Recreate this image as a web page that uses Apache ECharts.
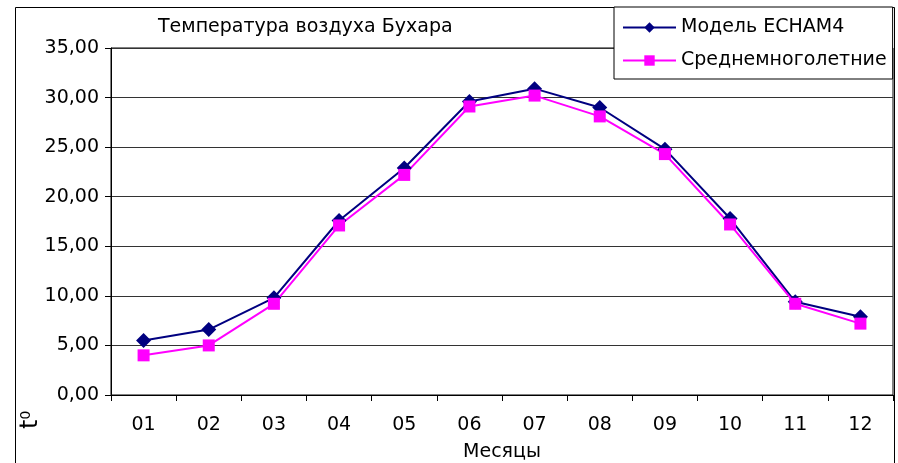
<!DOCTYPE html>
<html><head><meta charset="utf-8">
<script src="https://cdn.jsdelivr.net/npm/echarts@6/dist/echarts.min.js"></script>
<style>html,body{margin:0;padding:0;background:#fff}#c{width:898px;height:463px}</style>
</head><body><div id="c"></div>
<script>
var months = ['01','02','03','04','05','06','07','08','09','10','11','12'];
var echamValues = [5.5, 6.6, 9.8, 17.6, 22.9, 29.6, 30.9, 29.0, 24.8, 17.8, 9.4, 7.9];
var normValues = [4.0, 5.0, 9.2, 17.1, 22.2, 29.1, 30.2, 28.1, 24.3, 17.2, 9.2, 7.2];
var seriesNames = ['Модель ECHAM4', 'Среднемноголетние'];
var titleText = 'Температура воздуха Бухара';
var xName = 'Месяцы';

var FONT = '"DejaVu Sans", sans-serif';
var chart = echarts.init(document.getElementById('c'), null, {renderer: 'canvas'});
chart.setOption({
  animation: false,
  backgroundColor: '#fff',
  textStyle: {fontFamily: FONT},
  title: {
    text: titleText, left: 153, top: 13,
    textStyle: {fontFamily: FONT, fontSize: 19, fontWeight: 'normal', color: '#000'}
  },
  legend: {
    orient: 'vertical', left: 614, top: 7, width: 279,
    padding: [11, 6, 9, 8],
    itemGap: 14, itemWidth: 53, itemHeight: 13,
    backgroundColor: '#fff', borderColor: '#000', borderWidth: 1,
    textStyle: {fontFamily: FONT, fontSize: 19, color: '#000'},
    data: seriesNames
  },
  grid: {left: 111, right: 5, top: 48, bottom: 68, show: true, borderColor: '#000', borderWidth: 1,
    outerBoundsMode: 'none', containLabel: false},
  xAxis: {
    type: 'category', data: months, boundaryGap: true,
    name: xName, nameLocation: 'middle', nameGap: 48,
    nameTextStyle: {fontFamily: FONT, fontSize: 19, color: '#000'},
    axisLine: {lineStyle: {color: '#000'}},
    axisTick: {show: true, length: 6, lineStyle: {color: '#000'}},
    axisLabel: {fontFamily: FONT, fontSize: 19, color: '#000', margin: 21}
  },
  yAxis: {
    type: 'value', min: 0, max: 35, interval: 5,
    axisLine: {show: true, lineStyle: {color: '#000'}},
    axisTick: {show: true, length: 6, lineStyle: {color: '#000'}},
    axisLabel: {fontFamily: FONT, fontSize: 19, color: '#000', margin: 12,
      formatter: function (v) { return v.toFixed(2).replace('.', ','); }},
    splitLine: {lineStyle: {color: '#333', width: 1}}
  },
  graphic: [
    {type: 'rect', z: -1, shape: {x: 15.5, y: 7.5, width: 879, height: 470},
      style: {fill: 'none', stroke: '#000', lineWidth: 1}},
    {type: 'text', x: 19, y: 429, rotation: Math.PI / 2,
      style: {text: '{a|t}{b|0}', rich: {
        a: {fontFamily: FONT, fontSize: 24, fill: '#000'},
        b: {fontFamily: FONT, fontSize: 14, fill: '#000', verticalAlign: 'top', padding: [0, 0, 10, 0]}
      }}}
  ],
  series: [
    {name: seriesNames[0], type: 'line', data: echamValues, symbol: 'diamond', symbolSize: 15,
      lineStyle: {color: '#000080', width: 2}, itemStyle: {color: '#000080'}},
    {name: seriesNames[1], type: 'line', data: normValues, symbol: 'rect', symbolSize: 12,
      lineStyle: {color: '#FF00FF', width: 2}, itemStyle: {color: '#FF00FF'}}
  ]
});
</script></body></html>
